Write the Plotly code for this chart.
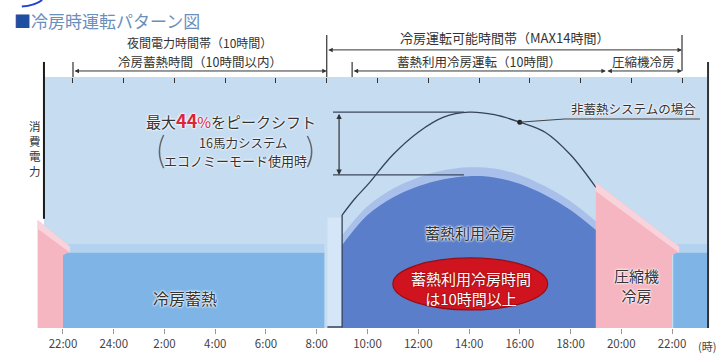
import plotly.graph_objects as go

# Clock hours on the x axis: 22:00 = 22, midnight = 24, next day's 22:00 = 46
tick_hours = [22, 24, 26, 28, 30, 32, 34, 36, 38, 40, 42, 44, 46]
tick_labels = ["22:00", "24:00", "2:00", "4:00", "6:00", "8:00", "10:00",
               "12:00", "14:00", "16:00", "18:00", "20:00", "22:00"]

# Night-time cold storage (冷房蓄熱) blocks: start, end, load
storage_start = [22.0, 46.05]
storage_end = [32.3, 47.42]
storage_load = [30, 30]

# Compressor cooling (圧縮機冷房): load at the start / end of each period
comp_left_hours = [21.0, 22.0]
comp_left_load = [43, 35]
comp_right_hours = [43.0, 46.0]
comp_right_load = [58, 35]

# Stored-heat cooling (蓄熱利用冷房) 9:00-19:00, body and its lighter rim
dome_hours = [33, 34, 35, 36, 37, 38, 39, 40, 41, 42, 43]
dome_load = [33, 45, 52, 56.5, 59.3, 60.5, 60, 57.5, 53, 47, 39]
dome_rim = [37, 48.5, 55.5, 60, 62.8, 64, 63.5, 61, 56.5, 50.5, 42.5]

# Non-storage system (非蓄熱システム) load curve
plain_hours = [33, 33.5, 34, 35, 36, 37, 38, 39, 40, 41, 42, 43]
plain_load = [45, 51.5, 57, 69, 78, 84, 86, 85, 82, 78, 69, 56]

# Peak-shift bracket levels (non-storage peak / storage peak)
peak_plain = 86
peak_storage = 61

# Top brackets: (start, end) in clock hours
night_span = (22, 32)
max14_span = (32, 46)
stored_span = (33, 43)
comp_span = (43, 46)

FONT = "Noto Sans CJK JP"
HALO = "0px 0px 2px #ffffff, 0px 0px 2px #ffffff, 0px 0px 3px #ffffff"

X_RANGE = [20.70, 47.576]
X2_SHIFT = 0.394
Y_RANGE = [-12.75, 130.68]

fig = go.Figure()


def poly(xs, ys, color):
    fig.add_trace(go.Scatter(x=xs, y=ys, fill="toself", fillcolor=color, mode="lines",
                             line=dict(width=0, color=color), hoverinfo="skip"))


# strip between storage block and dome
poly([32.42, 33, 33, 32.42], [0, 0, 44, 44], "#d4e6f7")

# cold storage blocks with a light top face
for s, e, v in zip(storage_start, storage_end, storage_load):
    poly([s, e, e, s], [v, v, v + 3.5, v + 3.5], "#b3d2f0")
    poly([s, e, e, s], [0, 0, v, v], "#7eb5e6")

# stored-heat cooling dome
fig.add_trace(go.Scatter(x=dome_hours, y=dome_rim, fill="tozeroy", fillcolor="#a9c1ea",
                         mode="lines", line=dict(width=0, shape="spline"), hoverinfo="skip"))
fig.add_trace(go.Scatter(x=dome_hours, y=dome_load, fill="tozeroy", fillcolor="#5b7ecb",
                         mode="lines", line=dict(width=0, shape="spline"), hoverinfo="skip"))

# non-storage system curve
fig.add_trace(go.Scatter(x=[32.42, plain_hours[0], plain_hours[0]], y=[0.4, 0.4, plain_load[0]],
                         mode="lines", line=dict(color="#34425a", width=1.3), hoverinfo="skip"))
fig.add_trace(go.Scatter(x=plain_hours, y=plain_load, mode="lines",
                         line=dict(color="#34425a", width=1.3, shape="spline"), hoverinfo="skip"))

# compressor cooling blocks
for hrs, lds in ((comp_left_hours, comp_left_load), (comp_right_hours, comp_right_load)):
    h0, h1 = hrs
    v0, v1 = lds
    poly([h0, h0, h1 + 0.28, h1 + 0.28, h1, h1], [0, v0, v1 - 2.5, v1 - 4.5, v1 - 6, 0], "#f5b6c2")
    poly([h0, h1 + 0.28, h1 + 0.28, h0], [v0, v1 - 2.5, v1 - 5.0, v0 - 3.5], "#f9d3db")

# leader dot on the non-storage curve
fig.add_trace(go.Scatter(x=[plain_hours[8]], y=[plain_load[8]], mode="markers",
                         marker=dict(size=5, color="#222"), hoverinfo="skip"))

# invisible trace so the top axis exists
fig.add_trace(go.Scatter(x=[30], y=[50], xaxis="x2", mode="markers",
                         marker=dict(opacity=0), hoverinfo="skip"))

shapes = [
    dict(type="rect", xref="x", yref="y", x0=21.25, x1=47.42, y0=0, y1=100,
         fillcolor="#c6dcf1", line_width=0, layer="below"),
    # frame lines left / right
    dict(type="line", xref="x", yref="y", x0=21.25, x1=21.25, y0=106, y1=43.5,
         line=dict(color="#1a1a1a", width=2)),
    dict(type="line", xref="x", yref="y", x0=47.42, x1=47.42, y0=106, y1=0,
         line=dict(color="#333", width=2)),
    # peak-shift bracket lines
    dict(type="line", xref="x", yref="y", x0=32.64, x1=37.8, y0=peak_plain, y1=peak_plain,
         line=dict(color="#3a475c", width=1.2)),
    dict(type="line", xref="x", yref="y", x0=32.64, x1=37.8, y0=peak_storage, y1=peak_storage,
         line=dict(color="#3a475c", width=1.2)),
    # round brackets around the system note
    dict(type="path", xref="x", yref="y", path="M 25.97,76.9 Q 25.63,70.3 25.97,63.7",
         line=dict(color="#666", width=1.5)),
    dict(type="path", xref="x", yref="y", path="M 31.63,76.5 Q 31.97,70.3 31.63,64.1",
         line=dict(color="#666", width=1.5)),
    # leader to the non-storage label
    dict(type="line", xref="x", yref="y", x0=plain_hours[8], x1=41.82, y0=plain_load[8], y1=83.3,
         line=dict(color="#444", width=1)),
    dict(type="line", xref="x", yref="y", x0=41.82, x1=47.1, y0=83.3, y1=83.3,
         line=dict(color="#777", width=1.5)),
    # red ellipse
    dict(type="circle", xref="x", yref="y", x0=35.0, x1=41.1, y0=7.2, y1=27.9,
         fillcolor="#d0141f", line=dict(color="#9a0c14", width=1.2)),
    # small arc at the top left corner
    dict(type="path", xref="paper", yref="paper",
         path="M 0.030 0.982 Q 0.048 0.984 0.058 1.0",
         line=dict(color="#2340d0", width=2)),
]

# top bracket vertical lines (top-axis hours)
for hx, ytop, ybot in ((night_span[0], 106, 100), (night_span[1], 116.7, 100),
                       (stored_span[0], 106, 100), (max14_span[1], 116.7, 102.4)):
    shapes.append(dict(type="line", xref="x2", yref="y", x0=hx, x1=hx, y0=ytop, y1=ybot,
                       line=dict(color="#333", width=1.2)))

annotations = []


def arrow(span, y, xref="x2"):
    annotations.append(dict(x=span[1], y=y, ax=span[0], ay=y, xref=xref, yref="y",
                            axref=xref, ayref="y", text="", showarrow=True,
                            arrowhead=2, startarrowhead=2, arrowside="end+start",
                            arrowsize=0.9, arrowwidth=1, arrowcolor="#333"))


def label(text, x, y, size, color="#333", xref="x", shadow=HALO, **kw):
    annotations.append(dict(text=text, x=x, y=y, xref=xref, yref="y", showarrow=False,
                            font=dict(family=FONT, size=size, color=color, shadow=shadow),
                            **kw))


arrow(night_span, 102.4)
arrow(max14_span, 110.8)
arrow(stored_span, 102.4)
arrow(comp_span, 102.4)
annotations.append(dict(x=32.88, y=peak_storage, ax=32.88, ay=peak_plain, xref="x", yref="y",
                        axref="x", ayref="y", text="", showarrow=True, arrowhead=2,
                        startarrowhead=2, arrowside="end+start", arrowsize=0.9,
                        arrowwidth=1.2, arrowcolor="#333"))

mid = lambda s: (s[0] + s[1]) / 2
label("夜間電力時間帯（10時間）", mid(night_span), 113.7, 12, xref="x2")
label("冷房蓄熱時間（10時間以内）", mid(night_span), 106.2, 12.5, xref="x2")
label("冷房運転可能時間帯（MAX14時間）", mid(max14_span), 115.9, 13, xref="x2")
label("蓄熱利用冷房運転（10時間）", mid(stored_span), 106.2, 12.5, xref="x2")
label("圧縮機冷房", mid(comp_span), 106.2, 12.5, xref="x2")

label("最大<span style='color:#d9263c;font-size:18px'><b>44</b></span>"
      "<span style='color:#d9263c'>%</span>をピークシフト", 28.62, 82.8, 15)
label("16馬力システム", 29.1, 73.9, 12.5)
label("エコノミーモード使用時", 28.78, 66.9, 13)
label("非蓄熱システムの場合", 44.5, 87.3, 12.5)

label("冷房蓄熱", 26.8, 11.95, 16)
label("蓄熱利用冷房", 38.04, 38.2, 15)
label("蓄熱利用冷房時間<br>は10時間以上", 38.08, 15.9, 15, color="#ffffff",
      shadow="0px 0px 2px #700000")
label("圧縮機<br>冷房", 44.62, 17.1, 15)
label("(時)", 47.38, -7.2, 11, color="#444", shadow="none")
label("消<br>費<br>電<br>力", 27 / 727, 71.7, 11.5, xref="paper", shadow="none")

annotations.append(dict(text="<span style='color:#1f4fa0'>■</span>冷房時運転パターン図",
                        x=12 / 727, y=1 - 20 / 360, xref="paper", yref="paper",
                        xanchor="left", yanchor="middle", showarrow=False,
                        font=dict(family=FONT, size=17, color="#6b8fbd")))

dom = [30 / 727, 712 / 727]
fig.update_layout(
    width=727, height=360, margin=dict(l=0, r=0, t=0, b=0),
    paper_bgcolor="white", plot_bgcolor="white", showlegend=False,
    font=dict(family=FONT),
    xaxis=dict(domain=dom, range=X_RANGE, anchor="free", position=1 - 328 / 360,
               tickvals=tick_hours, ticktext=tick_labels, ticks="outside", ticklen=5,
               tickcolor="#999", tickfont=dict(size=11.5, color="#444", family=FONT),
               showgrid=False, zeroline=False, showline=False, fixedrange=True),
    xaxis2=dict(domain=dom, range=[X_RANGE[0] - X2_SHIFT, X_RANGE[1] - X2_SHIFT],
                overlaying="x", anchor="free", position=1 - 77 / 360, side="top",
                tickvals=tick_hours, ticks="inside", ticklen=5, tickcolor="#333",
                showticklabels=False, showgrid=False, zeroline=False, showline=False),
    yaxis=dict(domain=[0, 1], range=Y_RANGE, visible=False, fixedrange=True),
    shapes=shapes,
    annotations=annotations,
)

fig.write_html("out.html")
